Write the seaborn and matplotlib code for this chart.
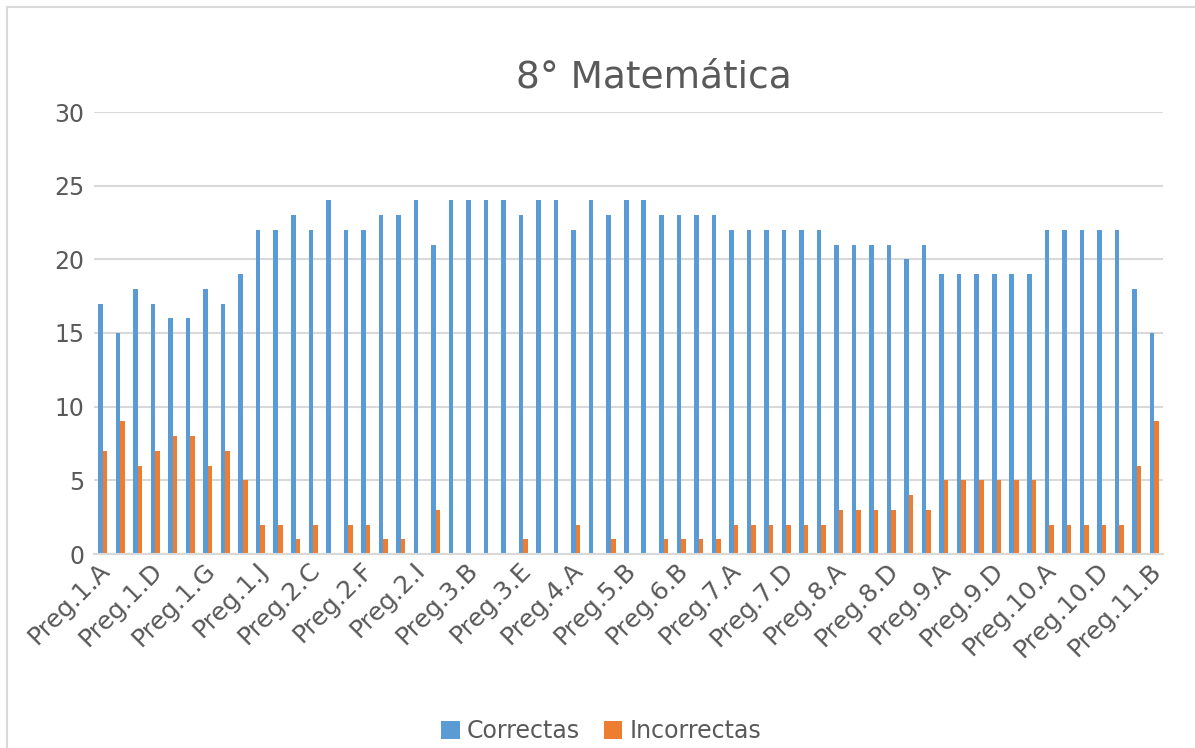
import pandas as pd
import matplotlib
matplotlib.use('Agg')
import matplotlib.pyplot as plt
import matplotlib.transforms as mtransforms
import seaborn as sns
from matplotlib.patches import Rectangle

# Categorias (preguntas)
preguntas = (
    [f'Preg.1.{l}' for l in 'ABCDEFGHIJ'] +
    [f'Preg.2.{l}' for l in 'ABCDEFGHIJ'] +
    [f'Preg.3.{l}' for l in 'ABCDEFG'] +
    [f'Preg.4.{l}' for l in 'AB'] +
    [f'Preg.5.{l}' for l in 'ABC'] +
    [f'Preg.6.{l}' for l in 'ABCD'] +
    [f'Preg.7.{l}' for l in 'ABCDEF'] +
    [f'Preg.8.{l}' for l in 'ABCDEF'] +
    [f'Preg.9.{l}' for l in 'ABCDEF'] +
    [f'Preg.10.{l}' for l in 'ABCDE'] +
    [f'Preg.11.{l}' for l in 'AB']
)

correctas = [17, 15, 18, 17, 16, 16, 18, 17, 19, 22,
             22, 23, 22, 24, 22, 22, 23, 23, 24, 21,
             24, 24, 24, 24, 23, 24, 24,
             22, 24,
             23, 24, 24,
             23, 23, 23, 23,
             22, 22, 22, 22, 22, 22,
             21, 21, 21, 21, 20, 21,
             19, 19, 19, 19, 19, 19,
             22, 22, 22, 22, 22,
             18, 15]

incorrectas = [7, 9, 6, 7, 8, 8, 6, 7, 5, 2,
               2, 1, 2, 0, 2, 2, 1, 1, 0, 3,
               0, 0, 0, 0, 1, 0, 0,
               2, 0,
               1, 0, 0,
               1, 1, 1, 1,
               2, 2, 2, 2, 2, 2,
               3, 3, 3, 3, 4, 3,
               5, 5, 5, 5, 5, 5,
               2, 2, 2, 2, 2,
               6, 9]

df = pd.DataFrame({'Pregunta': preguntas, 'Correctas': correctas, 'Incorrectas': incorrectas})
df = df.melt(id_vars='Pregunta', var_name='Tipo', value_name='Valor')

gris = '#595959'
sns.set_style('white')
plt.rcParams['font.family'] = ['DejaVu Sans']

fig = plt.figure(figsize=(11.95, 7.48), dpi=100)
ax = fig.add_axes([94 / 1195, 1 - 554 / 748, (1163 - 94) / 1195, (554 - 112) / 748])

sns.barplot(data=df, x='Pregunta', y='Valor', hue='Tipo', order=preguntas,
            palette={'Correctas': '#5B9BD5', 'Incorrectas': '#ED7D31'},
            width=0.52, saturation=1, linewidth=0, ax=ax, legend=True)

# Excel deja una rayita para los ceros
for bar in ax.patches:
    if bar.get_height() == 0 and bar.get_width() > 0:
        bar.set_height(0.1)

ax.set_xlim(-0.5, len(preguntas) - 0.5)
ax.set_ylim(0, 30)
ax.set_yticks(range(0, 31, 5))
ax.set_xticks(range(0, len(preguntas), 3))
ax.set_xticklabels(preguntas[::3], rotation=45, ha='right', rotation_mode='anchor')
ax.tick_params(axis='y', labelsize=17, colors=gris, length=0, pad=7)
ax.tick_params(axis='x', labelsize=18, colors=gris, length=0, pad=3)
desplaza = mtransforms.ScaledTranslation(-5 / 100, 0, fig.dpi_scale_trans)
for lab in ax.get_xticklabels():
    lab.set_transform(lab.get_transform() + desplaza)
ax.set_xlabel('')
ax.set_ylabel('')
ax.yaxis.grid(True, color='#d9d9d9', linewidth=1.5)
ax.set_axisbelow(True)
for s in ['top', 'right', 'left']:
    ax.spines[s].set_visible(False)
ax.spines['bottom'].set_color('#d9d9d9')
ax.spines['bottom'].set_linewidth(1.5)

# Leyenda abajo
handles, labels = ax.get_legend_handles_labels()
ax.get_legend().remove()
fig.legend(handles, labels, loc='center', bbox_to_anchor=(0.503, 0.023), ncol=2,
           frameon=False, fontsize=17, labelcolor=gris, handlelength=0.8,
           handleheight=0.8, handletextpad=0.3, columnspacing=1.0)

fig.text(654 / 1195, 1 - 77 / 748, '8° Matemática', ha='center', va='center',
         fontsize=27, color=gris)

# Borde del grafico
fig.patches.append(Rectangle((7 / 1195, -0.1), 1.2, 1 - 7 / 748 + 0.1,
                             transform=fig.transFigure, fill=False,
                             edgecolor='#d9d9d9', linewidth=1.5))

fig.savefig('out.png', dpi=100)
